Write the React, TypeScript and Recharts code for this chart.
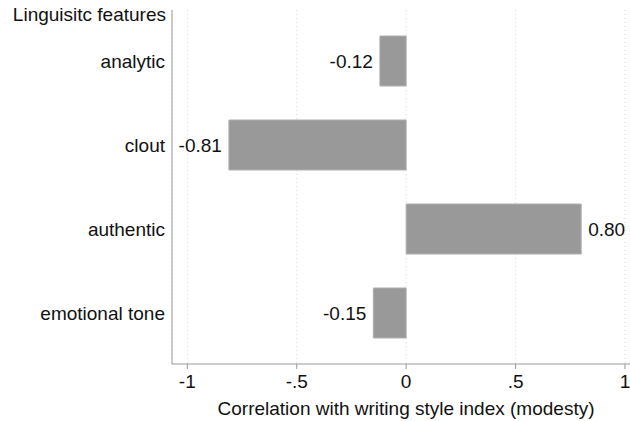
import { Bar, BarChart, CartesianGrid, LabelList, XAxis, YAxis } from 'recharts'

const features = ['analytic', 'clout', 'authentic', 'emotional tone']
const correlations = [-0.12, -0.81, 0.8, -0.15]
const xTicks = [-1, -0.5, 0, 0.5, 1]
const xTickLabels = ['-1', '-.5', '0', '.5', '1']

const data = features.map((feature, i) => ({ feature, value: correlations[i] }))

const font = 'Liberation Sans, Arial, sans-serif'

function ValueLabel(props: any) {
  const { x, y, width, height, value } = props
  const left = Math.min(x, x + width)
  const right = Math.max(x, x + width)
  const neg = value < 0
  return (
    <text
      x={neg ? left - 7 : right + 7}
      y={y + height / 2}
      textAnchor={neg ? 'end' : 'start'}
      dominantBaseline="central"
      fontSize={19}
      fontFamily={font}
      fill="#111"
    >
      {Number(value).toFixed(2)}
    </text>
  )
}

export default function App() {
  return (
    <div style={{ position: 'absolute', left: 0, top: 0, width: 630, height: 421, background: '#fff' }}>
      <div
        style={{
          position: 'absolute',
          right: 630 - 166,
          top: 4,
          fontFamily: font,
          fontSize: 19,
          lineHeight: '22px',
          color: '#111',
          whiteSpace: 'nowrap',
        }}
      >
        Linguisitc features
      </div>
      <BarChart
        width={630}
        height={421}
        data={data}
        layout="vertical"
        margin={{ top: 10, right: 0, bottom: 0, left: 0 }}
        barSize={50}
      >
        <CartesianGrid horizontal={false} stroke="#d8d8d8" strokeDasharray="1 3" />
        <XAxis
          type="number"
          domain={[-1.07, 1.023]}
          ticks={xTicks}
          tickFormatter={(v: number) => xTickLabels[xTicks.indexOf(v)]}
          height={57}
          stroke="#999"
          tickSize={5}
          tickMargin={6}
          tick={{ fill: '#111', fontSize: 19, fontFamily: font }}
          label={{
            content: () => (
              <text x={406} y={415} textAnchor="middle" fontSize={19} fontFamily={font} fill="#111">
                Correlation with writing style index (modesty)
              </text>
            ),
          }}
        />
        <YAxis
          type="category"
          dataKey="feature"
          width={172}
          stroke="#999"
          tickLine={false}
          padding={{ top: 9, bottom: 9 }}
          tickMargin={1}
          tick={{ fill: '#111', fontSize: 19, fontFamily: font }}
        />
        <Bar dataKey="value" fill="#999999" stroke="#b0b0b0" strokeWidth={1} isAnimationActive={false}>
          <LabelList dataKey="value" content={ValueLabel} />
        </Bar>
      </BarChart>
    </div>
  )
}
